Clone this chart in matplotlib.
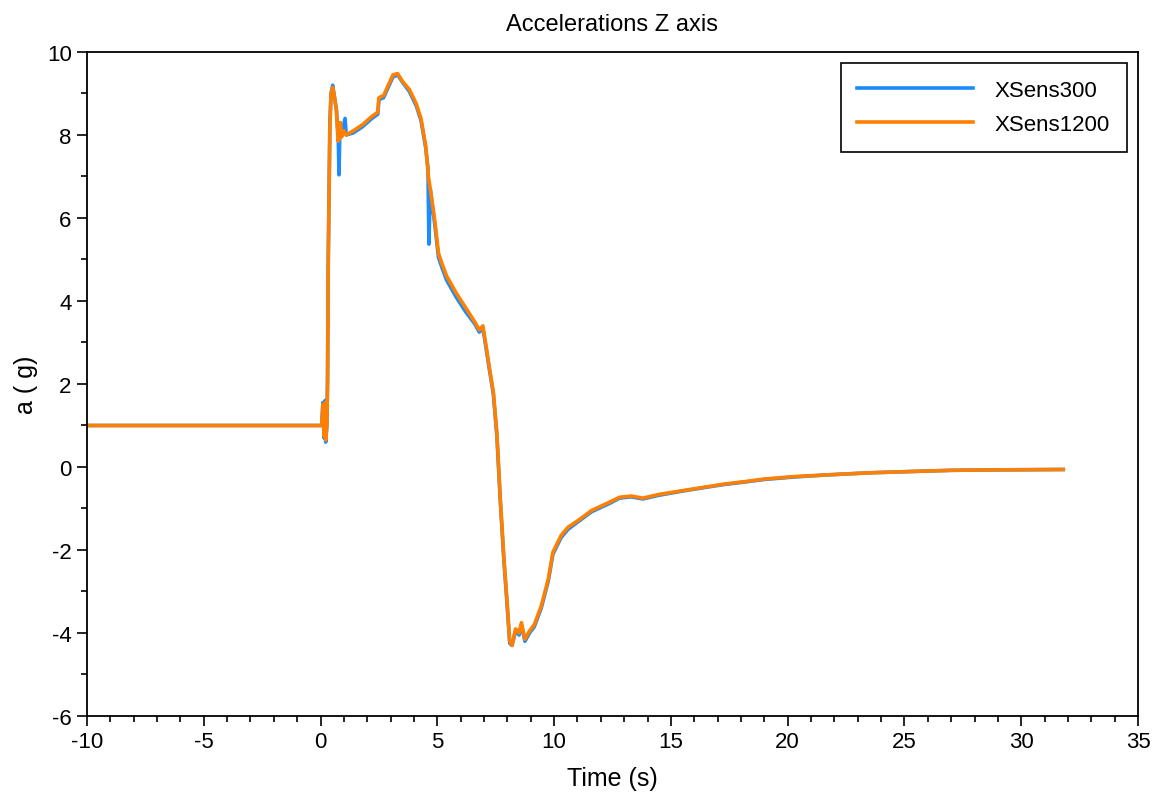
import matplotlib
matplotlib.use("Agg")
import matplotlib.pyplot as plt
from matplotlib.ticker import MultipleLocator

plt.rcParams['font.family'] = ['Liberation Sans', 'DejaVu Sans']
plt.rcParams['axes.unicode_minus'] = False

# Values (time in s, acceleration in g)
t_1200 = [-10, 0.05, 0.1, 0.15, 0.19, 0.22, 0.27, 0.3, 0.33, 0.4, 0.45, 0.52,
          0.6, 0.68, 0.75, 0.8, 0.85, 0.9, 1.0, 1.1, 1.4, 1.8, 2.2, 2.45, 2.5,
          2.7, 2.9, 3.1, 3.3, 3.5, 3.8, 4.1, 4.3, 4.5, 4.62, 4.75, 4.9, 5.05,
          5.2, 5.4, 5.8, 6.2, 6.6, 6.8, 6.95, 7.05, 7.2, 7.4, 7.55, 7.7, 7.85,
          7.98, 8.1, 8.2, 8.35, 8.5, 8.6, 8.75, 8.95, 9.15, 9.45, 9.75, 9.95,
          10.3, 10.6, 11.0, 11.6, 12.4, 12.8, 13.3, 13.8, 14.5, 15.5, 16.5,
          17.3, 18.2, 19.0, 20.3, 21.7, 23.5, 25.2, 27.0, 28.7, 31.8]
a_1200 = [1.0, 1.0, 1.5, 0.75, 1.55, 0.65, 1.0, 2.0, 4.9, 8.2, 9.0, 9.15,
          8.9, 8.6, 7.85, 7.9, 8.3, 7.95, 8.1, 8.0, 8.1, 8.25, 8.45, 8.55, 8.9,
          8.95, 9.2, 9.45, 9.48, 9.3, 9.1, 8.75, 8.4, 7.75, 7.0, 6.5, 5.9, 5.15,
          4.9, 4.6, 4.2, 3.85, 3.5, 3.3, 3.4, 3.05, 2.5, 1.8, 0.8, -0.8, -2.2,
          -3.2, -4.2, -4.3, -3.9, -4.0, -3.75, -4.15, -3.95, -3.8, -3.35, -2.7,
          -2.05, -1.65, -1.45, -1.3, -1.05, -0.84, -0.73, -0.70, -0.75, -0.66,
          -0.57, -0.48, -0.41, -0.35, -0.29, -0.23, -0.19, -0.14, -0.11, -0.08,
          -0.07, -0.06]

t_300 = [-10, 0.05, 0.1, 0.15, 0.19, 0.22, 0.27, 0.3, 0.33, 0.4, 0.45, 0.52,
         0.6, 0.68, 0.76, 0.79, 0.83, 0.9, 1.05, 1.1, 1.4, 1.8, 2.2, 2.45, 2.5,
         2.7, 2.9, 3.1, 3.3, 3.5, 3.8, 4.1, 4.3, 4.5, 4.6, 4.64, 4.7, 4.9,
         5.05, 5.2, 5.4, 5.8, 6.2, 6.6, 6.8, 6.95, 7.05, 7.2, 7.4, 7.55, 7.7,
         7.85, 7.98, 8.1, 8.2, 8.35, 8.5, 8.6, 8.75, 8.95, 9.15, 9.45, 9.75,
         9.95, 10.3, 10.6, 11.0, 11.6, 12.4, 12.8, 13.3, 13.8, 14.5, 15.5, 16.5,
         17.3, 18.2, 19.0, 20.3, 21.7, 23.5, 25.2, 27.0, 28.7, 31.8]
a_300 = [1.0, 1.0, 1.55, 0.7, 1.6, 0.6, 1.0, 2.1, 5.0, 8.3, 9.0, 9.2,
         8.9, 8.6, 7.9, 7.04, 8.2, 8.0, 8.4, 8.0, 8.05, 8.2, 8.4, 8.5, 8.85,
         8.9, 9.15, 9.4, 9.45, 9.28, 9.05, 8.7, 8.35, 7.7, 7.2, 5.37, 6.7, 5.8,
         5.05, 4.8, 4.5, 4.1, 3.75, 3.45, 3.25, 3.35, 3.0, 2.45, 1.75, 0.75,
         -0.85, -2.25, -3.25, -4.25, -4.3, -3.95, -4.05, -3.8, -4.2, -4.0,
         -3.85, -3.4, -2.75, -2.1, -1.7, -1.5, -1.33, -1.08, -0.87, -0.75,
         -0.72, -0.77, -0.68, -0.58, -0.49, -0.42, -0.36, -0.30, -0.24, -0.19,
         -0.14, -0.11, -0.08, -0.07, -0.06]

fig = plt.figure(figsize=(11.55, 8.03), dpi=100)
ax = fig.add_axes([0.0753, 0.1071, 0.91, 0.8269])

ax.plot(t_300, a_300, color="#1a8cff", linewidth=2.6, label="XSens300")
ax.plot(t_1200, a_1200, color="#ff8000", linewidth=2.6, label="XSens1200")

ax.set_xlim(-10, 35)
ax.set_ylim(-6, 10)
ax.xaxis.set_major_locator(MultipleLocator(5))
ax.xaxis.set_minor_locator(MultipleLocator(1))
ax.yaxis.set_major_locator(MultipleLocator(2))
ax.yaxis.set_minor_locator(MultipleLocator(1))
ax.tick_params(which="major", direction="out", length=7, width=1.2,
               labelsize=16, pad=4)
ax.tick_params(which="minor", direction="out", length=4, width=1.2)
for s in ax.spines.values():
    s.set_linewidth(1.3)

ax.set_title("Accelerations Z axis", fontsize=17, pad=16)
ax.set_xlabel("Time (s)", fontsize=18, labelpad=10)
ax.set_ylabel("a ( g)", fontsize=18, labelpad=6)

leg = ax.legend(loc="upper right", fontsize=16, handlelength=5.2,
                handletextpad=1.0, fancybox=False, framealpha=1,
                edgecolor="black", borderpad=0.75, labelspacing=0.6,
                borderaxespad=0.5)
leg.get_frame().set_linewidth(1.2)

fig.savefig("out.png", dpi=100)
